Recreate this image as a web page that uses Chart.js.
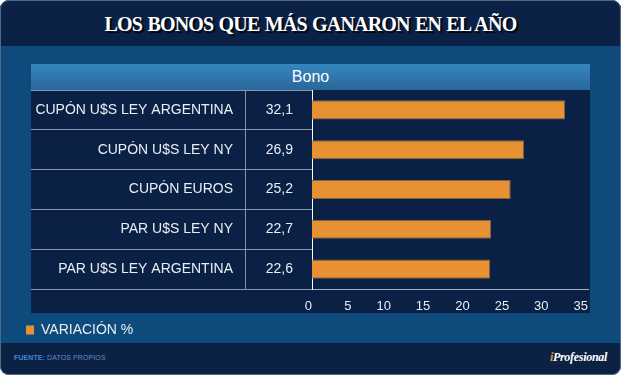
<!DOCTYPE html>
<html>
<head>
<meta charset="utf-8">
<script src="https://cdn.jsdelivr.net/npm/chart.js@4.4.0/dist/chart.umd.min.js"></script>
<style>
  body { margin: 0; background: #fff; }
  #frame { position: absolute; left: 0; top: 0; width: 621px; height: 375px; border-radius: 9px; overflow: hidden; background: #0e4b7c; font-family: Arial, "Liberation Sans", sans-serif; }
  #edge { position: absolute; left: 0; top: 0; width: 619px; height: 373px; border: 1px solid #4f6984; border-radius: 9px; pointer-events: none; }
  #top { position: absolute; left: 0; top: 0; width: 621px; height: 46px; background: #0b2246; }
  #title { position: absolute; left: 0; top: 10px; width: 621px; text-align: center; font-family: "Liberation Serif", serif; font-weight: bold; font-size: 20px; letter-spacing: -0.8px; word-spacing: 1px; line-height: 28px; color: #fff; text-shadow: 2px 2px 1px #02060c; }
  #head { position: absolute; left: 31px; top: 64px; width: 559px; height: 26px; background: linear-gradient(#3586bf, #2a679b); color: #fff; font-size: 16px; line-height: 26px; text-align: center; }
  #panel { position: absolute; left: 31px; top: 90px; width: 559px; height: 223px; background: #0a2145; }
  #foot { position: absolute; left: 0; top: 343px; width: 621px; height: 32px; background: #0b2245; }
  #src { position: absolute; left: 14px; top: 11px; font-size: 7px; color: #5f8fc8; letter-spacing: 0.1px; }
  #src b { color: #3f86d6; }
  #brand { position: absolute; right: 14px; top: 7px; font-family: "Liberation Serif", serif; font-style: italic; font-weight: bold; font-size: 12px; color: #fff; letter-spacing: -0.3px; }
  #brand span { color: #e8912f; }
  #wrap { position: absolute; left: 16px; top: 89px; width: 574px; height: 258px; }
</style>
</head>
<body>
<div id="frame">
  <div id="top"><div id="title">LOS BONOS QUE MÁS GANARON EN EL AÑO</div></div>
  <div id="head">Bono</div>
  <div id="panel"></div>
  <div id="wrap"><canvas id="chart"></canvas></div>
  <div id="foot">
    <div id="src"><b>FUENTE:</b> DATOS PROPIOS</div>
    <div id="brand"><span>i</span>Profesional</div>
  </div>
  <div id="edge"></div>
</div>
<script>
const categories = ['CUPÓN U$S LEY ARGENTINA', 'CUPÓN U$S LEY NY', 'CUPÓN EUROS', 'PAR U$S LEY NY', 'PAR U$S LEY ARGENTINA'];
const variation = [32.1, 26.9, 25.2, 22.7, 22.6];
const valueLabels = variation.map(v => v.toFixed(1).replace('.', ','));
const seriesName = 'VARIACIÓN %';

const lineGray = '#8796ab';
const textColor = '#e9eef4';

new Chart(document.getElementById('chart'), {
  type: 'bar',
  data: {
    labels: categories,
    datasets: [{
      label: seriesName,
      data: variation,
      backgroundColor: '#e89132',
      borderColor: '#7d6448',
      borderWidth: 1,
      barPercentage: 0.48,
      categoryPercentage: 1
    }]
  },
  options: {
    indexAxis: 'y',
    responsive: true,
    maintainAspectRatio: false,
    animation: false,
    layout: { padding: { top: 1, right: 2 } },
    scales: {
      x: {
        min: 0, max: 35,
        ticks: { stepSize: 5, align: 'end', color: textColor, font: { size: 13 }, padding: 2 },
        grid: { display: false },
        border: { color: '#a6b1c2' },
        afterFit(s) { s.height = 24; }
      },
      y: {
        type: 'category',
        position: 'left',
        weight: 1,
        offset: true,
        ticks: { color: textColor, font: { size: 14 }, padding: -202, crossAlign: 'near' },
        grid: { offset: true, drawOnChartArea: false, tickLength: 214, color: lineGray },
        border: { color: lineGray },
        afterFit(s) { s.width = 229; }
      },
      y2: {
        type: 'category',
        labels: valueLabels,
        position: 'left',
        weight: 0,
        offset: true,
        display: true,
        ticks: { color: textColor, font: { size: 14 }, padding: -48, crossAlign: 'center' },
        grid: { offset: true, drawOnChartArea: false, tickLength: 67, color: lineGray },
        border: { color: '#ffffff' },
        afterFit(s) { s.width = 67; }
      }
    },
    plugins: {
      tooltip: { enabled: false },
      legend: {
        position: 'bottom',
        align: 'start',
        labels: {
          boxWidth: 8, boxHeight: 9, padding: 10,
          color: textColor, font: { size: 14 },
          generateLabels(chart) {
            const items = Chart.defaults.plugins.legend.labels.generateLabels(chart);
            items.forEach(it => { it.lineWidth = 0; it.strokeStyle = 'rgba(0,0,0,0)'; });
            return items;
          }
        }
      }
    }
  }
});
</script>
</body>
</html>
